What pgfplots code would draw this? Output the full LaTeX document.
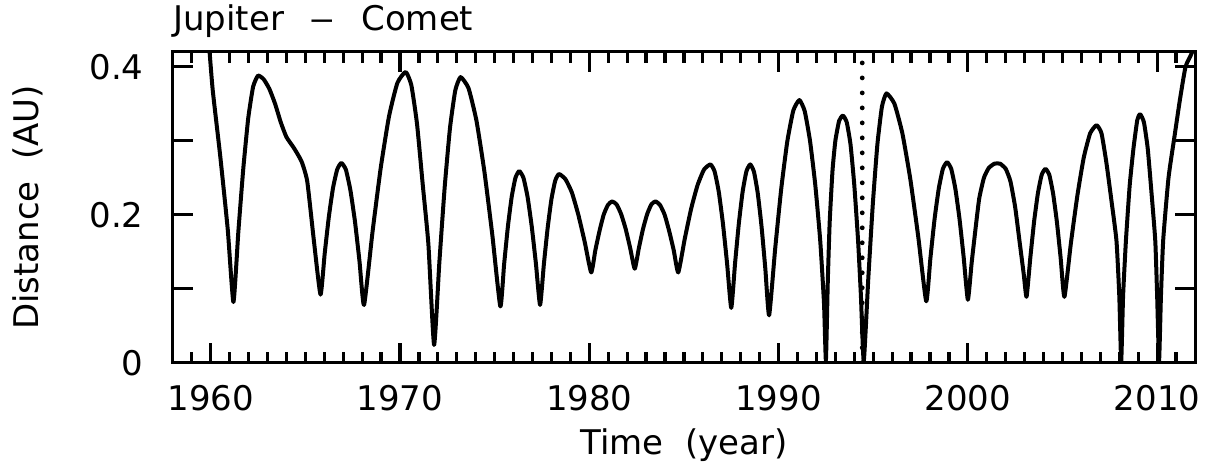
\documentclass[border=0pt]{standalone}
\usepackage{pgfplots}
\pgfplotsset{compat=1.18}
\usepackage{fontspec}
\setmainfont{DejaVu Sans}
\newcommand{\lblfont}{\fontsize{17}{20}\selectfont}
\begin{document}
\begin{tikzpicture}
\begin{axis}[
  scale only axis,
  width=511.5pt, height=155.5pt,
  xmin=1958, xmax=2012, ymin=0, ymax=0.42,
  axis line style={line width=1.5pt},
  tick style={black, line width=1.5pt},
  tick align=inside,
  major tick length=10pt, minor tick length=5.5pt,
  xtick={1960,1970,1980,1990,2000,2010},
  xticklabels={1960,1970,1980,1990,2000,2010},
  minor xtick={1959,1961,1962,1963,1964,1965,1966,1967,1968,1969,1971,1972,1973,1974,1975,1976,1977,1978,1979,1981,1982,1983,1984,1985,1986,1987,1988,1989,1991,1992,1993,1994,1995,1996,1997,1998,1999,2001,2002,2003,2004,2005,2006,2007,2008,2009,2011},
  ytick={0,0.2,0.4},
  yticklabels={0,0.2,0.4},
  extra y ticks={0.1,0.3},
  extra y tick labels={},
  tick label style={font=\lblfont, inner sep=0pt},
  xticklabel style={anchor=north, yshift=-11pt},
  yticklabel style={anchor=east, xshift=-14.5pt},
  xlabel={Time~~(year)},
  ylabel={Distance~~(AU)},
  xlabel style={font=\lblfont, inner sep=0pt, at={(axis description cs:0.5,-0.212)}, anchor=north},
  ylabel style={font=\lblfont, inner sep=0pt, at={(axis description cs:-0.1574,0.5)}, anchor=north},
  title={Jupiter\hspace{13pt}\scalebox{1.5}[1]{–}\hspace{13pt}Comet},
  title style={font=\lblfont, inner sep=0pt, at={(axis description cs:0,1.032)}, anchor=base west},
]
\addplot[black, line width=2pt, line join=round, smooth, tension=0.3] coordinates {
(1959.85,0.45) (1960.1,0.37) (1960.5,0.28) (1960.9,0.18) (1961.2,0.082)
(1961.46,0.177) (1961.72,0.262) (1961.98,0.330) (1962.24,0.373) (1962.5,0.388)
(1962.8,0.383) (1963.1,0.370) (1963.4,0.350) (1963.7,0.325) (1964.0,0.305)
(1964.4,0.290) (1964.8,0.272) (1965.1,0.245) (1965.45,0.165) (1965.8,0.092)
(1966.02,0.147) (1966.24,0.197) (1966.46,0.236) (1966.68,0.261) (1966.9,0.270)
(1967.14,0.261) (1967.38,0.233) (1967.62,0.191) (1967.86,0.137) (1968.1,0.078)
(1968.54,0.175) (1968.98,0.263) (1969.42,0.333) (1969.86,0.378) (1970.3,0.393)
(1970.6,0.375) (1970.9,0.3225) (1971.2,0.241) (1971.5,0.160) (1971.8,0.024)
(1972.08,0.136) (1972.36,0.237) (1972.64,0.317) (1972.92,0.368) (1973.2,0.386)
(1973.62,0.371) (1974.04,0.327) (1974.46,0.258) (1974.88,0.172) (1975.3,0.076)
(1975.5,0.133) (1975.7,0.184) (1975.9,0.224) (1976.1,0.250) (1976.3,0.259)
(1976.52,0.250) (1976.74,0.224) (1976.96,0.184) (1977.18,0.134) (1977.4,0.078)
(1977.6,0.133) (1977.8,0.182) (1978.0,0.221) (1978.2,0.246) (1978.4,0.255)
(1978.74,0.248) (1979.08,0.230) (1979.42,0.200) (1979.76,0.163) (1980.1,0.122)
(1980.32,0.152) (1980.54,0.178) (1980.76,0.200) (1980.98,0.213) (1981.2,0.218)
(1981.44,0.214) (1981.68,0.201) (1981.92,0.181) (1982.16,0.155) (1982.4,0.127)
(1982.62,0.155) (1982.84,0.181) (1983.06,0.201) (1983.28,0.214) (1983.5,0.218)
(1983.74,0.213) (1983.98,0.200) (1984.22,0.178) (1984.46,0.152) (1984.7,0.122)
(1985.04,0.167) (1985.38,0.208) (1985.72,0.240) (1986.06,0.261) (1986.4,0.268)
(1986.62,0.2585) (1986.84,0.231) (1987.06,0.188) (1987.28,0.134) (1987.5,0.074)
(1987.7,0.134) (1987.9,0.188) (1988.1,0.231) (1988.3,0.2585) (1988.5,0.268)
(1988.7,0.258) (1988.9,0.229) (1989.1,0.184) (1989.3,0.127) (1989.5,0.064)
(1989.82,0.154) (1990.14,0.235) (1990.46,0.299) (1990.78,0.341) (1991.1,0.355)
(1991.38,0.340) (1991.66,0.300) (1991.94,0.240) (1992.2,0.165) (1992.4,0.080) (1992.5,0.003)
(1992.6,0.11) (1992.7,0.19) (1992.85,0.26) (1993.0,0.30) (1993.2,0.327) (1993.4,0.334)
(1993.6,0.325) (1993.8,0.295) (1994.0,0.24) (1994.2,0.165) (1994.35,0.09) (1994.5,0.002)
(1994.74,0.114) (1994.98,0.215) (1995.22,0.295) (1995.46,0.346) (1995.7,0.364)
(1996.12,0.350) (1996.54,0.310) (1996.96,0.248) (1997.38,0.170) (1997.8,0.083)
(1998.02,0.141) (1998.24,0.194) (1998.46,0.235) (1998.68,0.262) (1998.9,0.271)
(1999.12,0.262) (1999.34,0.235) (1999.56,0.194) (1999.78,0.142) (2000.0,0.085)
(2000.2,0.135) (2000.4,0.18) (2000.6,0.222) (2000.85,0.25) (2001.1,0.263) (2001.4,0.269)
(2001.7,0.269) (2002.0,0.262) (2002.25,0.245) (2002.5,0.21) (2002.75,0.16) (2002.95,0.12) (2003.1,0.089)
(2003.3,0.142) (2003.5,0.191) (2003.7,0.229) (2003.9,0.254) (2004.1,0.262)
(2004.3,0.254) (2004.5,0.229) (2004.7,0.191) (2004.9,0.142) (2005.1,0.089)
(2005.44,0.161) (2005.78,0.225) (2006.12,0.277) (2006.46,0.310) (2006.8,0.321)
(2007.06,0.31) (2007.32,0.27) (2007.58,0.22) (2007.85,0.165) (2008.0,0.09) (2008.1,0.002)
(2008.2,0.09) (2008.35,0.165) (2008.55,0.24) (2008.75,0.29) (2008.95,0.328) (2009.1,0.336)
(2009.3,0.325) (2009.5,0.29) (2009.7,0.23) (2009.9,0.165) (2010.0,0.09) (2010.1,0.002)
(2010.2,0.09) (2010.32,0.166) (2010.6,0.25) (2010.94,0.31) (2011.2,0.355) (2011.5,0.40)
(2011.85,0.42) (2012.1,0.45)
};
\addplot[black, line width=2.4pt, line cap=round, dash pattern=on 0pt off 7.5pt] coordinates {(1994.42,0) (1994.42,0.42)};
\pgfplotsinvokeforeach{1960,1970,1980,1990,2000,2010}{
  \draw[black, line width=1.6pt] (axis cs:#1,0) -- ++(0pt,10pt);
  \draw[black, line width=1.6pt] (axis cs:#1,0.42) -- ++(0pt,-10pt);
}
\pgfplotsinvokeforeach{1959,1961,1962,1963,1964,1965,1966,1967,1968,1969,1971,1972,1973,1974,1975,1976,1977,1978,1979,1981,1982,1983,1984,1985,1986,1987,1988,1989,1991,1992,1993,1994,1995,1996,1997,1998,1999,2001,2002,2003,2004,2005,2006,2007,2008,2009,2011}{
  \draw[black, line width=1.6pt] (axis cs:#1,0) -- ++(0pt,5.5pt);
  \draw[black, line width=1.6pt] (axis cs:#1,0.42) -- ++(0pt,-5.5pt);
}
\end{axis}
\path ([shift={(-86.5pt,-52.5pt)}]current axis.south west) rectangle ([shift={(7pt,26pt)}]current axis.north east);
\end{tikzpicture}
\end{document}
